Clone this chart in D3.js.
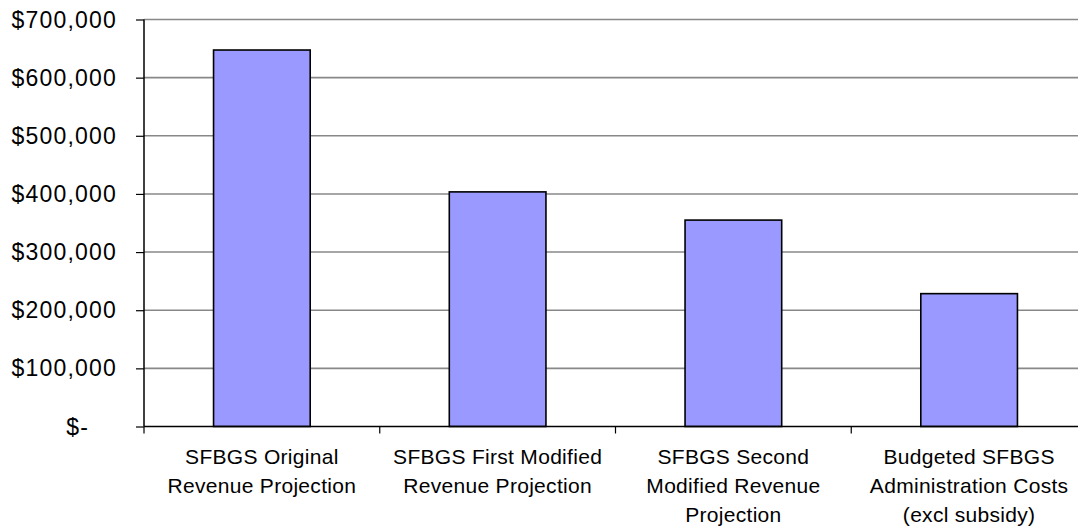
<!DOCTYPE html>
<html><head><meta charset="utf-8">
<script src="https://cdn.jsdelivr.net/npm/d3@7"></script>
<style>
body{margin:0;background:#fff;}
svg{display:block;font-family:"Liberation Sans",Arial,sans-serif;}
</style></head>
<body><svg id="c" width="1078" height="527"></svg>
<script>
const categories = [
  ["SFBGS Original", "Revenue Projection"],
  ["SFBGS First Modified", "Revenue Projection"],
  ["SFBGS Second", "Modified Revenue", "Projection"],
  ["Budgeted SFBGS", "Administration Costs", "(excl subsidy)"]
];
const values = [647500, 403500, 355000, 228500];
const yTicks = [0, 100000, 200000, 300000, 400000, 500000, 600000, 700000];
const yTickLabels = ["$-", "$100,000", "$200,000", "$300,000", "$400,000", "$500,000", "$600,000", "$700,000"];

const svg = d3.select("#c");
const pLeft = 144, pRight = 1087, pTop = 19.5, pBottom = 426.5;

const x = d3.scaleBand().domain(d3.range(categories.length)).range([pLeft, pRight]).paddingInner(0).paddingOuter(0);
const y = d3.scaleLinear().domain([0, 700000]).range([pBottom, pTop]);

// gridlines
svg.append("g").selectAll("line").data(yTicks.slice(1)).join("line")
  .attr("x1", pLeft).attr("x2", pRight)
  .attr("y1", d => y(d)).attr("y2", d => y(d))
  .attr("stroke", "#888").attr("stroke-width", 1.6);

// bars
const bw = x.bandwidth() * 0.41;
svg.append("g").selectAll("rect").data(values).join("rect")
  .attr("x", (d, i) => x(i) + (x.bandwidth() - bw) / 2)
  .attr("width", bw)
  .attr("y", d => y(d))
  .attr("height", d => y(0) - y(d))
  .attr("fill", "#9999FF").attr("stroke", "#000").attr("stroke-width", 1.6);

// y axis
const yAxis = d3.axisLeft(y).tickValues(yTicks).tickSize(8).tickPadding(0)
  .tickFormat((d, i) => yTickLabels[i]);
const gy = svg.append("g").attr("transform", `translate(${pLeft},0)`).call(yAxis);
gy.select(".domain").attr("stroke", "#000").attr("stroke-width", 1.5).attr("d", `M0,${pTop}V${pBottom}`);
gy.selectAll(".tick line").attr("stroke", "#000").attr("stroke-width", 1.2);
gy.selectAll(".tick text")
  .attr("x", d => d === 0 ? -55 : -27)
  .attr("dy", "0.33em")
  .attr("fill", "#000")
  .style("font-size", "23px").style("letter-spacing", "1.2px")
  .style("font-family", "'Liberation Sans', Arial, sans-serif");

// x axis
const xAxis = d3.axisBottom(x).tickSize(0).tickFormat("");
const gx = svg.append("g").attr("transform", `translate(0,${pBottom})`).call(xAxis);
gx.select(".domain").attr("stroke", "#000").attr("stroke-width", 1.5).attr("d", `M${pLeft},0H${pRight}`);
gx.append("g").selectAll("line").data(d3.range(categories.length + 1)).join("line")
  .attr("x1", i => pLeft + i * x.bandwidth()).attr("x2", i => pLeft + i * x.bandwidth())
  .attr("y1", 0).attr("y2", 7)
  .attr("stroke", "#000").attr("stroke-width", 1.2);

// category labels
const lab = svg.append("g").selectAll("text").data(categories).join("text")
  .attr("text-anchor", "middle")
  .attr("fill", "#000")
  .style("font-size", "21px").style("letter-spacing", "0.3px")
  .attr("transform", (d, i) => `translate(${x(i) + x.bandwidth() / 2},464)`);
lab.selectAll("tspan").data(d => d).join("tspan")
  .attr("x", 0).attr("y", (d, j) => j * 29)
  .text(d => d);
</script></body></html>
